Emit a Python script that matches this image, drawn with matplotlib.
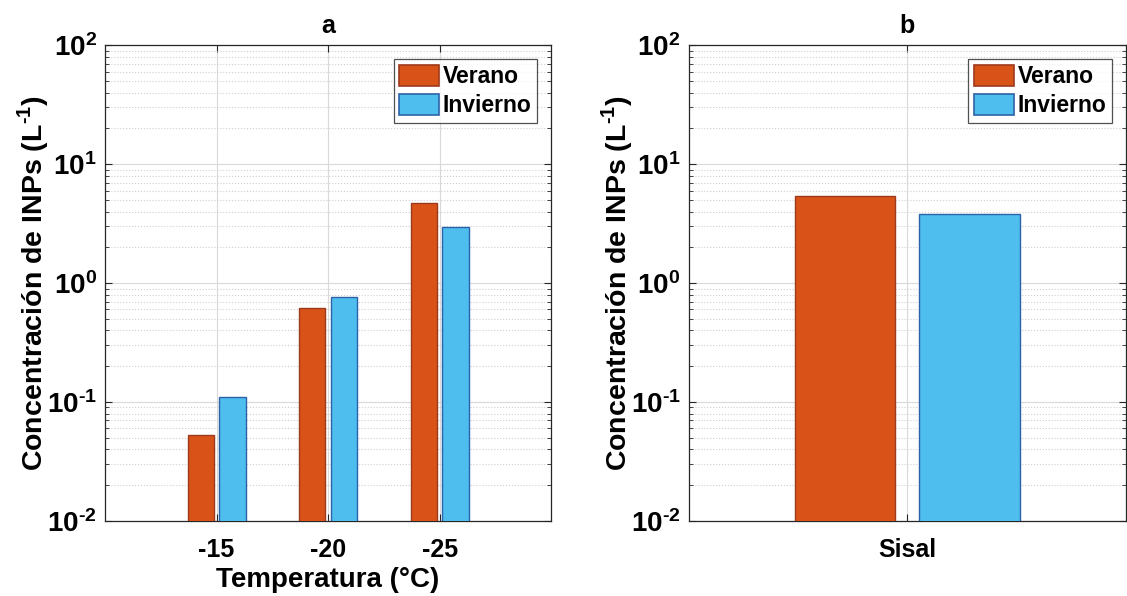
import matplotlib
matplotlib.use('Agg')
import matplotlib.pyplot as plt
import numpy as np
from matplotlib.patches import Patch

plt.rcParams['font.family'] = ['Liberation Sans', 'DejaVu Sans']
plt.rcParams['font.weight'] = 'bold'
plt.rcParams['mathtext.fontset'] = 'custom'
plt.rcParams['mathtext.rm'] = 'Liberation Sans:bold'
plt.rcParams['mathtext.bf'] = 'Liberation Sans:bold'
plt.rcParams['axes.unicode_minus'] = False

# data
temps = ['-15', '-20', '-25']
verano_a = [0.053, 0.62, 4.76]
invierno_a = [0.11, 0.76, 2.97]

sites = ['Sisal']
verano_b = [5.44]
invierno_b = [3.83]

series_names = ['Verano', 'Invierno']
c_ver, e_ver = '#D95319', '#9E3A1C'
c_inv, e_inv = '#4DBEEE', '#2E62A8'

fig = plt.figure(figsize=(11.27, 5.96), dpi=100)
ax_a = fig.add_axes([0.0932, 0.126, 0.3958, 0.798])
ax_b = fig.add_axes([0.6113, 0.126, 0.3878, 0.798])

# hyphen (U+2010) instead of mathtext's long minus, like the original
ytick_vals = [1e-2, 1e-1, 1e0, 1e1, 1e2]
ytick_labels = ['$\\mathbf{10^{\u20102}}$', '$\\mathbf{10^{\u20101}}$', r'$\mathbf{10^{0}}$',
                r'$\mathbf{10^{1}}$', r'$\mathbf{10^{2}}$']


def style_axes(ax, title):
    ax.set_yscale('log')
    ax.set_ylim(1e-2, 1e2)
    ax.set_yticks(ytick_vals)
    ax.set_yticklabels(ytick_labels, fontsize=20)
    ax.set_axisbelow(True)
    ax.grid(True, which='major', color='#d9d9d9', linewidth=0.8, linestyle='-')
    ax.grid(True, which='minor', axis='y', color='#cfcfcf', linewidth=0.8, linestyle=':')
    ax.tick_params(which='both', direction='in', top=True, right=True, colors='#262626',
                   labelcolor='black')
    ax.tick_params(which='major', length=5)
    ax.tick_params(which='minor', length=3)
    ax.tick_params(axis='y', pad=6)
    ax.tick_params(axis='x', which='minor', top=False, bottom=False)
    for s in ax.spines.values():
        s.set_color('#262626')
        s.set_linewidth(0.9)
    ax.set_title(title, fontsize=18, fontweight='bold', pad=9)
    ax.set_ylabel('Concentración de INPs (L$^{\\mathbf{\u20101}}$)', fontsize=20.5,
                  fontweight='bold', labelpad=-3)
    handles = [Patch(facecolor=c_ver, edgecolor=e_ver, linewidth=1.2),
               Patch(facecolor=c_inv, edgecolor=e_inv, linewidth=1.2)]
    leg = ax.legend(handles, series_names, loc='upper right', fontsize=16.5,
                    frameon=True, fancybox=False, edgecolor='#262626',
                    handlelength=1.75, handleheight=1.05, handletextpad=0.15,
                    borderpad=0.25, labelspacing=0.25, borderaxespad=0.6)
    leg.get_frame().set_linewidth(0.9)
    for t in leg.get_texts():
        t.set_fontweight('bold')


# panel a
xa = np.arange(1, len(temps) + 1)
off_a, w_a = 0.143, 0.234
ax_a.bar(xa - off_a, verano_a, width=w_a, color=c_ver, edgecolor=e_ver, linewidth=1, zorder=3)
ax_a.bar(xa + off_a, invierno_a, width=w_a, color=c_inv, edgecolor=e_inv, linewidth=1, zorder=3)
ax_a.set_xlim(0, 4)
ax_a.set_xticks(xa)
ax_a.set_xticklabels(temps, fontsize=18, fontweight='bold')
ax_a.tick_params(axis='x', pad=12)
ax_a.set_xlabel('Temperatura (°C)', fontsize=20, fontweight='bold', labelpad=4)
style_axes(ax_a, 'a')

# panel b
xb = np.arange(1, len(sites) + 1)
off_b, w_b = 0.285, 0.46
ax_b.bar(xb - off_b, verano_b, width=w_b, color=c_ver, edgecolor=e_ver, linewidth=1, zorder=3)
ax_b.bar(xb + off_b, invierno_b, width=w_b, color=c_inv, edgecolor=e_inv, linewidth=1, zorder=3)
ax_b.set_xlim(0, 2)
ax_b.set_xticks(xb)
ax_b.set_xticklabels(sites, fontsize=18, fontweight='bold')
ax_b.tick_params(axis='x', pad=12)
style_axes(ax_b, 'b')

fig.savefig('out.png', dpi=100)
